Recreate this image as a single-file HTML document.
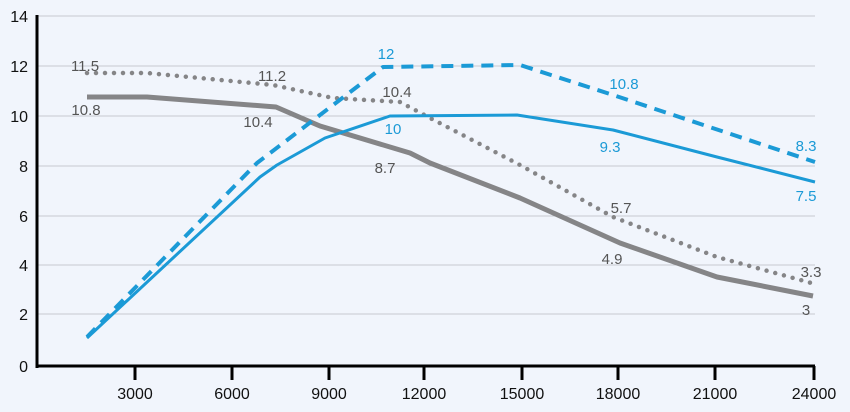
<!DOCTYPE html>
<html><head><meta charset="utf-8"><style>
html,body{margin:0;padding:0;background:#f1f5fc;}
svg{display:block;font-family:"Liberation Sans",sans-serif;}
</style></head><body>
<svg width="850" height="412" viewBox="0 0 850 412" xmlns="http://www.w3.org/2000/svg">
<rect width="850" height="412" fill="#f1f5fc"/>
<g stroke="#c6c9d0" stroke-width="1">
<line x1="37" y1="16" x2="815" y2="16"/><line x1="37" y1="66" x2="815" y2="66"/>
<line x1="37" y1="116" x2="815" y2="116"/><line x1="37" y1="166" x2="815" y2="166"/>
<line x1="37" y1="216" x2="815" y2="216"/><line x1="37" y1="265" x2="815" y2="265"/>
<line x1="37" y1="314" x2="815" y2="314"/>
</g>
<g font-size="16" fill="#111" text-anchor="end">
<text x="28" y="22">14</text><text x="28" y="72">12</text><text x="28" y="122">10</text>
<text x="28" y="172">8</text><text x="28" y="222">6</text><text x="28" y="271">4</text>
<text x="28" y="320">2</text><text x="28" y="372">0</text>
</g>
<g stroke="#000" stroke-width="3">
<line x1="37" y1="15" x2="37" y2="368"/><line x1="36" y1="366" x2="815" y2="366"/>
<line x1="135" y1="366" x2="135" y2="380"/><line x1="232" y1="366" x2="232" y2="380"/>
<line x1="329" y1="366" x2="329" y2="380"/><line x1="424" y1="366" x2="424" y2="380"/>
<line x1="522" y1="366" x2="522" y2="380"/><line x1="618" y1="366" x2="618" y2="380"/>
<line x1="715" y1="366" x2="715" y2="380"/><line x1="814" y1="366" x2="814" y2="380"/>
</g>
<g font-size="16" fill="#111" text-anchor="middle">
<text x="135" y="399">3000</text><text x="232" y="399">6000</text><text x="329" y="399">9000</text>
<text x="424" y="399">12000</text><text x="522" y="399">15000</text><text x="618" y="399">18000</text>
<text x="715" y="399">21000</text><text x="814" y="399">24000</text>
</g>
<g fill="none" stroke-linejoin="round">
<polyline stroke="#858587" stroke-width="5" points="87,97 147,97 276,107 320,126 410,153 430,163 520,198 620,243 717,277 813,296"/>
<polyline stroke="#858587" stroke-width="4.5" stroke-dasharray="0,9" stroke-linecap="round" points="87,73 147,73 273,85 333,98 400,102 430,118 520,165 613,217 717,257 815,284"/>
<polyline stroke="#1b9ad6" stroke-width="3" points="87,338 260,177 277,165 325,138 390,116 517,115 613,130 717,157 815,182"/>
<polyline stroke="#1b9ad6" stroke-width="4" stroke-dasharray="12,8" points="87,337 257,163 383,67 520,65 613,95 815,162"/>
</g>
<g font-size="15" fill="#555" text-anchor="middle">
<text x="85" y="71">11.5</text><text x="86" y="115">10.8</text><text x="272" y="81">11.2</text>
<text x="258" y="127">10.4</text><text x="397" y="97">10.4</text><text x="385" y="173">8.7</text>
<text x="621" y="213">5.7</text><text x="612" y="264">4.9</text><text x="811" y="277">3.3</text>
<text x="806" y="315">3</text>
</g>
<g font-size="15" fill="#1b9ad6" text-anchor="middle">
<text x="386" y="59">12</text><text x="393" y="134">10</text><text x="624" y="89">10.8</text>
<text x="610" y="152">9.3</text><text x="806" y="151">8.3</text><text x="806" y="201">7.5</text>
</g>
</svg>
</body></html>
